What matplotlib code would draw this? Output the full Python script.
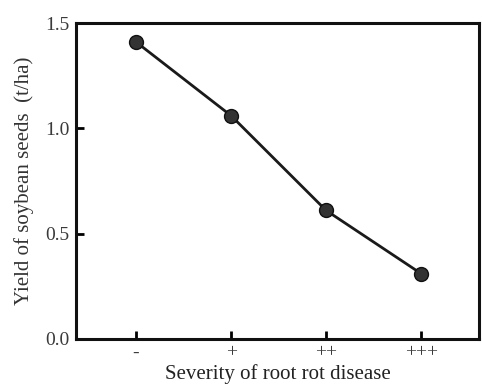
import matplotlib.pyplot as plt

plt.rcParams['font.family'] = ['Liberation Serif', 'DejaVu Serif']

# 根腐病严重程度与大豆产量
severity = ['-', '+', '++', '+++']
yield_t = [1.41, 1.06, 0.61, 0.31]

fig = plt.figure(figsize=(4.82, 3.9), dpi=100)
ax = fig.add_axes([0.158, 0.131, 0.836, 0.81])

x = list(range(len(severity)))
ax.plot(x, yield_t, color='#1a1a1a', lw=2, marker='o', ms=10,
        markerfacecolor='#333333', markeredgecolor='#111111')

ax.set_xlim(-0.63, 3.61)
ax.set_ylim(0, 1.5)
ax.set_xticks(x)
ax.set_xticklabels(severity)
ax.set_yticks([0.0, 0.5, 1.0, 1.5])
ax.set_yticklabels(['0.0', '0.5', '1.0', '1.5'])

for s in ax.spines.values():
    s.set_linewidth(2.2)
    s.set_color('#111111')
ax.tick_params(direction='in', length=6, width=2, labelsize=14,
               labelcolor='#3a3a3a')
ax.tick_params(axis='y', pad=5)
ax.tick_params(axis='x', pad=4)

ax.set_xlabel('Severity of root rot disease', fontsize=15, color='#222222', labelpad=2)
ax.set_ylabel('Yield of soybean seeds  (t/ha)', fontsize=15, color='#333333', labelpad=8)

fig.savefig('out.png')
